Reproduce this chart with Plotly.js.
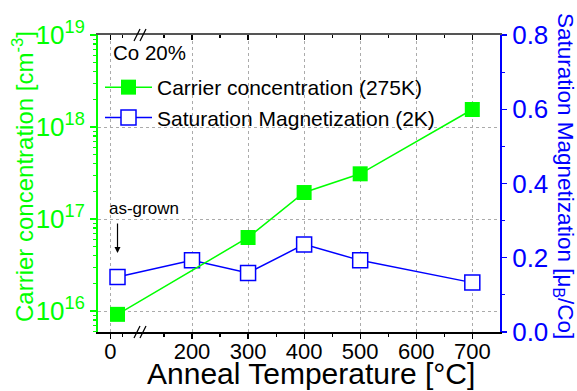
<!DOCTYPE html>
<html>
<head>
<meta charset="utf-8">
<script src="https://cdn.plot.ly/plotly-3.0.1.min.js"></script>
<style>html,body{margin:0;padding:0;background:#fff;}#chart{width:577px;height:391px;}</style>
</head>
<body>
<div id="chart"></div>
<script>
// ---- data ----
const tempCarrier = [30, 300, 400, 500, 700];           // anneal temperature (°C); 30 = as-grown
const carrier = [9.2e15, 6.3e16, 1.94e17, 3.1e17, 1.55e18]; // cm^-3 (275K)
const tempMag = [30, 200, 300, 400, 500, 700];
const magnetization = [0.148, 0.193, 0.159, 0.236, 0.193, 0.133]; // muB/Co (2K)
const xTickTemps = [0, 200, 300, 400, 500, 600, 700];
const xTickLabels = ['0', '200', '300', '400', '500', '600', '700'];
const xMinorTemps = [50, 150, 250, 350, 450, 550, 650];
const yLeftTicks = [1e16, 1e17, 1e18, 1e19];
const yLeftLabels = ['10<sup>16</sup>', '10<sup>17</sup>', '10<sup>18</sup>', '10<sup>19</sup>'];
const yRightTicks = [0, 0.2, 0.4, 0.6, 0.8];
const yRightLabels = ['0.0', '0.2', '0.4', '0.6', '0.8'];

// broken x axis: compressed segment below 100 °C
function disp(t) { return t < 100 ? 54.2 + 0.43 * t : t; }

const GREEN = '#00ff00';
const BLUE = '#0000ff';
const FONT = 'Liberation Sans, Arial, sans-serif';

const minorLog = [];
for (let e = 15; e <= 18; e++) for (let m = 2; m <= 9; m++) minorLog.push(m * Math.pow(10, e));

const traces = [
  {
    x: tempMag.map(disp), y: magnetization, xaxis: 'x', yaxis: 'y',
    mode: 'lines+markers', name: 'Saturation Magnetization (2K)',
    line: {color: BLUE, width: 1.5},
    marker: {symbol: 'square', size: 15, color: '#ffffff', line: {color: BLUE, width: 1.5}},
    legendrank: 2
  },
  {
    x: tempCarrier.map(disp), y: carrier, xaxis: 'x', yaxis: 'y2',
    mode: 'lines+markers', name: 'Carrier concentration (275K)',
    line: {color: GREEN, width: 1.5},
    marker: {symbol: 'square', size: 15, color: GREEN},
    legendrank: 1
  },
  { x: [], y: [], xaxis: 'x2', yaxis: 'y', showlegend: false, hoverinfo: 'skip' }
];

// plot-area pixel helpers for decorations
const L = 98, T = 35, W = 402, H = 297;
const px = v => (v - L) / W;
const py = v => (T + H - v) / H;

const breakShapes = [];
[T + H, T].forEach(yy => {
  [134, 140].forEach(x0 => {
    breakShapes.push({type: 'line', xref: 'paper', yref: 'paper',
      x0: px(x0), x1: px(x0 + 6), y0: py(yy + 6), y1: py(yy - 6),
      line: {color: '#000', width: 1.2}});
  });
});

const layout = {
  width: 577, height: 391,
  margin: {l: L, r: 577 - L - W, t: T, b: 391 - T - H},
  paper_bgcolor: '#fff', plot_bgcolor: '#fff',
  font: {family: FONT, color: '#000'},
  showlegend: true,
  legend: {x: px(100), y: py(67), xanchor: 'left', yanchor: 'top',
    bgcolor: 'rgba(0,0,0,0)', font: {size: 21, family: FONT}, itemwidth: 47,
    traceorder: 'normal', tracegroupgap: 0},
  xaxis: {
    range: [32.3, 749.4], showline: true, linecolor: '#000', linewidth: 1.5,
    tickmode: 'array', tickvals: xTickTemps.map(disp), ticktext: xTickLabels,
    ticks: 'outside', ticklen: 5, tickwidth: 1.2, tickcolor: '#000',
    tickfont: {size: 22, family: FONT, color: '#000'}, ticklabelstandoff: -6,
    showgrid: true, gridcolor: '#ababab', griddash: 'dot', gridwidth: 1,
    zeroline: false, anchor: 'y',
    minor: {tickvals: xMinorTemps.map(disp), ticks: 'outside', ticklen: 3, tickwidth: 1.2, tickcolor: '#000', showgrid: false}
  },
  xaxis2: {
    range: [32.3, 749.4], overlaying: 'x', side: 'top', anchor: 'y',
    showline: true, linecolor: '#555', linewidth: 2,
    tickmode: 'array', tickvals: xTickTemps.map(disp), showticklabels: false,
    ticks: 'inside', ticklen: 5, tickwidth: 1.2, tickcolor: '#000',
    showgrid: false, zeroline: false,
    minor: {tickvals: xMinorTemps.map(disp), ticks: 'inside', ticklen: 3, tickwidth: 1.2, tickcolor: '#000', showgrid: false}
  },
  yaxis: {
    side: 'right', range: [0, 0.8], anchor: 'x',
    showline: true, linecolor: BLUE, linewidth: 2,
    tickmode: 'array', tickvals: yRightTicks, ticktext: yRightLabels,
    ticks: 'outside', ticklen: 5, tickwidth: 1.2, tickcolor: BLUE,
    tickfont: {size: 26, family: FONT, color: BLUE},
    showgrid: false, zeroline: false,
    minor: {dtick: 0.1, ticks: 'outside', ticklen: 3, tickwidth: 1.2, tickcolor: BLUE, showgrid: false}
  },
  yaxis2: {
    type: 'log', side: 'left', overlaying: 'y', anchor: 'x', range: [15.772, 19],
    showline: true, linecolor: GREEN, linewidth: 2,
    tickmode: 'array', tickvals: yLeftTicks, ticktext: yLeftLabels,
    ticks: 'outside', ticklen: 6, tickwidth: 1.2, tickcolor: GREEN,
    tickfont: {size: 26, family: FONT, color: GREEN},
    showgrid: true, gridcolor: '#ababab', griddash: 'dot', gridwidth: 1,
    zeroline: false,
    minor: {tickvals: minorLog, ticks: 'outside', ticklen: 3, tickwidth: 1.2, tickcolor: GREEN, showgrid: false}
  },
  shapes: breakShapes,
  annotations: [
    {text: 'Anneal Temperature [°C]', xref: 'paper', yref: 'paper', x: px(311), y: py(373.5),
      xanchor: 'center', yanchor: 'middle', showarrow: false, font: {size: 30, family: FONT, color: '#000'}},
    {text: 'Carrier concentration [cm<sup>-3</sup>]', xref: 'paper', yref: 'paper', x: px(23), y: py(177),
      xanchor: 'center', yanchor: 'middle', textangle: -90, showarrow: false, font: {size: 24, family: FONT, color: GREEN}},
    {text: 'Saturation Magnetization [μ<sub>B</sub>/Co]', xref: 'paper', yref: 'paper', x: px(564), y: py(176),
      xanchor: 'center', yanchor: 'middle', textangle: 90, showarrow: false, font: {size: 22.5, family: FONT, color: BLUE}},
    {text: 'Co 20%', xref: 'paper', yref: 'paper', x: px(111), y: py(53),
      xanchor: 'left', yanchor: 'middle', showarrow: false, font: {size: 20.5, family: FONT, color: '#000'}},
    {text: 'as-grown', xref: 'paper', yref: 'paper', x: px(107), y: py(208),
      xanchor: 'left', yanchor: 'middle', showarrow: false, font: {size: 17, family: FONT, color: '#000'}},
    {text: '', xref: 'x', yref: 'paper', x: disp(tempMag[0]), y: py(253), ax: 0, ay: -31,
      showarrow: true, arrowhead: 2, arrowsize: 1, arrowwidth: 1.2, arrowcolor: '#000'}
  ]
};

Plotly.newPlot('chart', traces, layout, {staticPlot: true, displayModeBar: false});
</script>
</body>
</html>
